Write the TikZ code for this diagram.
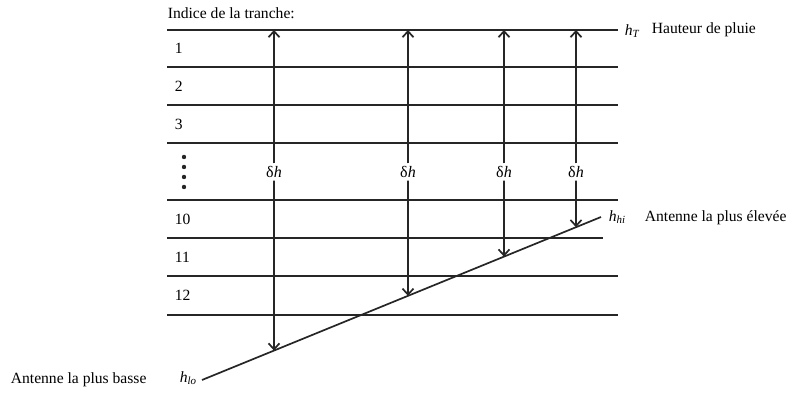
\documentclass[tikz,border=0pt]{standalone}
\usepackage{fontspec}
\setmainfont{Liberation Serif}
\usetikzlibrary{arrows.meta,calc}

\tikzset{
  rowline/.style={line width=0.85pt,draw=black!85},
  dharrow/.style={line width=0.85pt,draw=black!85,-{Straight Barb[length=3pt,width=5.5pt]}},
  dhlabel/.style={fill=white,inner sep=1pt,font=\fontsize{8}{9}\selectfont},
  lbl/.style={font=\fontsize{7.8}{9}\selectfont,inner sep=0pt},
}

\begin{document}
\begin{tikzpicture}[x=0.5pt,y=-0.5pt,line width=0.85pt]
  \useasboundingbox (0,0) rectangle (789,394);
  % slices
  \foreach \yy in {30,67,105,143,200,276,315}
    \draw[rowline] (167,\yy) -- (618,\yy);
  \draw[rowline] (167,238) -- (603,238);
  % antennas
  \coordinate (lo) at (202,380);
  \coordinate (hi) at (601,217);
  \draw[rowline] (lo) -- (hi);
  % delta h arrows
  \foreach \n/\xx in {1/274,2/408,3/504,4/576}{
    \pgfmathsetmacro\slpos{(\xx-202)/399}
    \coordinate (t\n) at (\xx,30);
    \coordinate (b\n) at ($(lo)!\slpos!(hi)$);
    \node[dhlabel] (d\n) at (\xx,172) {δ\textit{h}};
    \draw[dharrow] (d\n) -- (t\n);
    \draw[dharrow] (d\n) -- (b\n);
  }
  % slice indices
  \node[lbl,anchor=west] (title) at (167,13) {Indice de la tranche:};
  \foreach \lab/\yy in {1/48,2/86,3/124,10/219,11/257,12/295}
    \node[lbl,anchor=west] (r\lab) at (174,\yy) {\lab};
  \foreach \yy in {157,167,177,187}
    \fill[black!85] (184,\yy) circle (2.2);
  % heights
  \node[lbl,anchor=west] (hT) at (624,31) {\textit{h}\textsubscript{\textit{T}}};
  \node[lbl,anchor=west] (rain) at (651,30) {Hauteur de pluie};
  \node[lbl,anchor=west] (hhi) at (608,217) {\textit{h}\textsubscript{\textit{hi}}};
  \node[lbl,anchor=west] (high) at (644,218) {Antenne la plus élevée};
  \node[lbl,anchor=east] (hlo) at (198,378) {\textit{h}\textsubscript{\textit{lo}}};
  \node[lbl,anchor=west] (low) at (10,380) {Antenne la plus basse};
\end{tikzpicture}
\end{document}
